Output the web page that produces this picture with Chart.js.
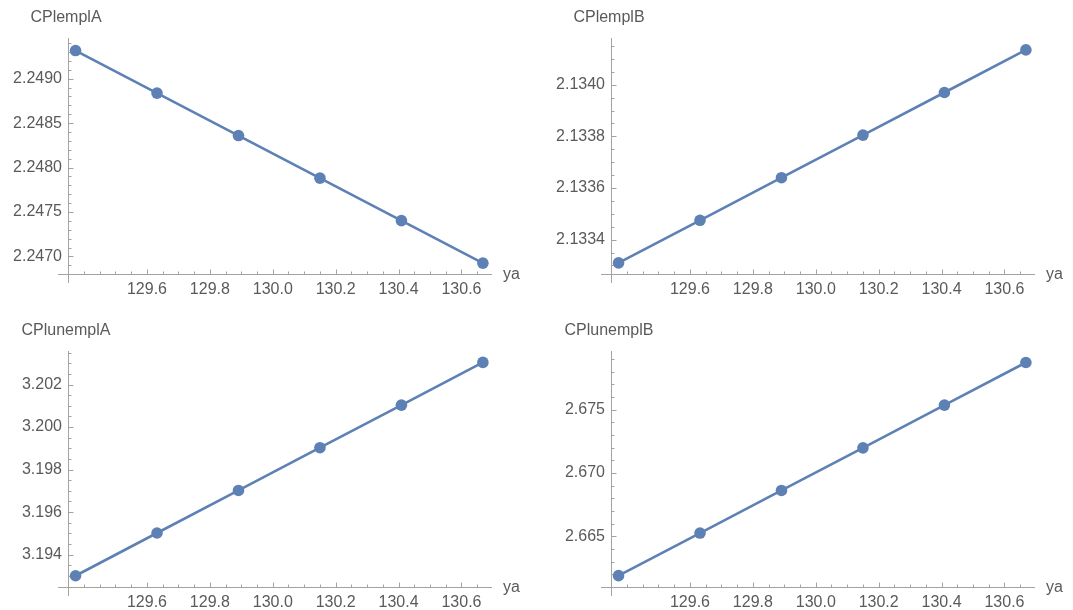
<!DOCTYPE html>
<html>
<head>
<meta charset="utf-8">
<script src="https://cdn.jsdelivr.net/npm/chart.js@4.4.1/dist/chart.umd.min.js"></script>
<style>
html, body { margin: 0; padding: 0; background: #fff; width: 1073px; height: 610px; overflow: hidden; }
.panel { position: absolute; width: 536px; height: 297px; }
</style>
</head>
<body>
<div class="panel" style="left:0;top:0"><canvas id="cpl-empl-a" width="536" height="297"></canvas></div>
<div class="panel" style="left:543px;top:0"><canvas id="cpl-empl-b" width="536" height="297"></canvas></div>
<div class="panel" style="left:0;top:313px"><canvas id="cpl-unempl-a" width="536" height="297"></canvas></div>
<div class="panel" style="left:543px;top:313px"><canvas id="cpl-unempl-b" width="536" height="297"></canvas></div>
<script>
// values
const ya = [129.373, 129.632, 129.891, 130.150, 130.409, 130.668];
const cplEmplA = [2.249317, 2.248838, 2.248360, 2.247881, 2.247403, 2.246924];
const cplEmplB = [2.133310, 2.133475, 2.133640, 2.133805, 2.133970, 2.134135];
const cplUnemplA = [3.19301, 3.19502, 3.19702, 3.19903, 3.20103, 3.20304];
const cplUnemplB = [2.66190, 2.66526, 2.66862, 2.67198, 2.67535, 2.67871];

const xTickLabels = [129.6, 129.8, 130.0, 130.2, 130.4, 130.6];
const yTicksEmplA = [2.2470, 2.2475, 2.2480, 2.2485, 2.2490];
const yTicksEmplB = [2.1334, 2.1336, 2.1338, 2.1340];
const yTicksUnemplA = [3.194, 3.196, 3.198, 3.200, 3.202];
const yTicksUnemplB = [2.665, 2.670, 2.675];

const LINE = '#5e81b5';
const AXIS = '#a3a3a3';
const TEXT = '#5a5a5a';
const FONT = { family: '"Liberation Sans", Arial, sans-serif', size: 16 };
const X_MIN = 129.349, X_MAX = 130.697;

function hasTick(list, v) {
    return list.some(t => Math.abs(t - v) < 1e-9);
}

// minor + major tick positions between min and max
function tickRange(min, max, step) {
    const out = [];
    for (let k = Math.ceil(min / step - 1e-9); k * step <= max + 1e-12; k++) {
        out.push(Math.round(k * step * 1e7) / 1e7);
    }
    return out;
}

// Mathematica-like axes: crossing lines, inward ticks, labels at the axis ends
const mmaAxes = {
    id: 'mmaAxes',
    beforeDatasetsDraw(chart, args, opts) {
        const { ctx, chartArea: a, scales: { x, y } } = chart;
        const x0 = Math.round(a.left) + 0.5;
        const y0 = Math.round(a.bottom) + 0.5;
        ctx.save();
        ctx.strokeStyle = AXIS;
        ctx.lineWidth = 1;
        ctx.beginPath();
        ctx.moveTo(a.left - 10, y0); ctx.lineTo(a.right, y0);
        ctx.moveTo(x0, a.top); ctx.lineTo(x0, a.bottom + 9);
        x.ticks.forEach(t => {
            const px = Math.round(x.getPixelForValue(t.value)) + 0.5;
            const len = t.label ? 5 : 3;
            ctx.moveTo(px, y0); ctx.lineTo(px, y0 - len);
        });
        y.ticks.forEach(t => {
            const py = Math.round(y.getPixelForValue(t.value)) + 0.5;
            const len = t.label ? 5 : 3;
            ctx.moveTo(x0, py); ctx.lineTo(x0 + len, py);
        });
        ctx.stroke();
        ctx.fillStyle = TEXT;
        ctx.font = FONT.size + 'px ' + FONT.family;
        ctx.textBaseline = 'middle';
        ctx.textAlign = 'center';
        ctx.fillText(opts.title, a.left - 2, a.top - 20);
        ctx.textAlign = 'left';
        ctx.fillText('ya', a.right + 11, y0);
        ctx.restore();
    }
};

function makePanel(id, title, values, yTicks, yMin, yMax, minorStep, decimals) {
    const ctx = document.getElementById(id).getContext('2d');
    return new Chart(ctx, {
        type: 'line',
        data: {
            datasets: [{
                data: ya.map((v, i) => ({ x: v, y: values[i] })),
                borderColor: LINE, backgroundColor: LINE, borderWidth: 2.6,
                pointRadius: 5.8, pointBorderWidth: 0, pointBackgroundColor: LINE,
                tension: 0, fill: false
            }]
        },
        options: {
            responsive: false,
            animation: false,
            events: [],
            layout: { padding: { top: 38, right: 44, bottom: 1, left: 0 } },
            scales: {
                x: {
                    type: 'linear', min: X_MIN, max: X_MAX, bounds: 'data',
                    afterBuildTicks: s => { s.ticks = tickRange(X_MIN, X_MAX, 0.05).map(v => ({ value: v })); },
                    afterFit: s => { s.height = 22; },
                    ticks: {
                        autoSkip: false, maxRotation: 0, padding: 6, color: TEXT, font: FONT,
                        callback: v => hasTick(xTickLabels, v) ? v.toFixed(1) : ''
                    },
                    grid: { display: false, drawTicks: false },
                    border: { display: false }
                },
                y: {
                    type: 'linear', min: yMin, max: yMax, bounds: 'data',
                    afterBuildTicks: s => { s.ticks = tickRange(yMin, yMax, minorStep).map(v => ({ value: v })); },
                    afterFit: s => { s.width = 68; },
                    ticks: {
                        autoSkip: false, padding: 6, color: TEXT, font: FONT,
                        callback: v => hasTick(yTicks, v) ? v.toFixed(decimals) : ''
                    },
                    grid: { display: false, drawTicks: false },
                    border: { display: false }
                }
            },
            plugins: {
                legend: { display: false },
                tooltip: { enabled: false },
                mmaAxes: { title: title }
            }
        },
        plugins: [mmaAxes]
    });
}

makePanel('cpl-empl-a', 'CPlemplA', cplEmplA, yTicksEmplA, 2.246802, 2.249458, 0.0001, 4);
makePanel('cpl-empl-b', 'CPlemplB', cplEmplB, yTicksEmplB, 2.133267, 2.134181, 0.00005, 4);
makePanel('cpl-unempl-a', 'CPlunemplA', cplUnemplA, yTicksUnemplA, 3.19248, 3.203576, 0.0005, 3);
makePanel('cpl-unempl-b', 'CPlunemplB', cplUnemplB, yTicksUnemplB, 2.661006, 2.679617, 0.001, 3);
</script>
</body>
</html>
